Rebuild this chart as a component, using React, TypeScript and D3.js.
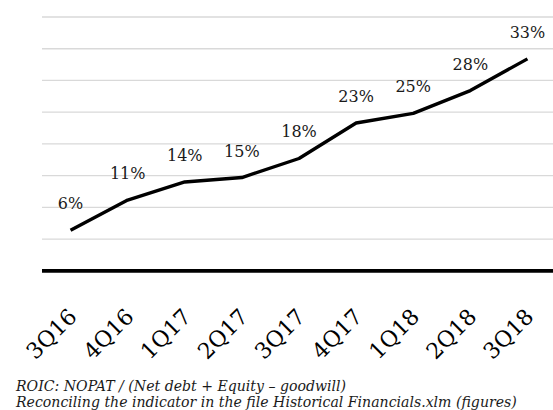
import React from "react";
import * as d3 from "d3";

const categories = ["3Q16", "4Q16", "1Q17", "2Q17", "3Q17", "4Q17", "1Q18", "2Q18", "3Q18"];
const roicValues = [0.064, 0.1115, 0.14, 0.147, 0.177, 0.233, 0.248, 0.284, 0.334];
const gridTicks = [0.05, 0.1, 0.15, 0.2, 0.25, 0.3, 0.35, 0.4];
const footnotes = [
  "ROIC: NOPAT / (Net debt + Equity \u2013 goodwill)",
  "Reconciling the indicator in the file Historical Financials.xlm (figures)",
];

const W = 553;
const H = 410;
const plot = { left: 42, right: 556, top: 17, bottom: 270.8 };
const serif = "Georgia, 'DejaVu Serif', serif";

export default function App() {
  const x = d3.scaleBand<string>().domain(categories).range([plot.left, plot.right]);
  const y = d3.scaleLinear().domain([0, 0.4]).range([plot.bottom, plot.top]);
  const cx = (c: string) => (x(c) ?? 0) + x.bandwidth() / 2;
  const line = d3
    .line<number>()
    .x((_, i) => cx(categories[i]))
    .y((d) => y(d));
  const fmt = d3.format(".0%");

  return (
    <svg
      width={W}
      height={H}
      style={{ position: "absolute", left: 0, top: 0, background: "#ffffff" }}
    >
      {gridTicks.map((t) => (
        <line
          key={t}
          x1={plot.left}
          x2={W}
          y1={y(t)}
          y2={y(t)}
          stroke="#d9d9d9"
          strokeWidth={1.3}
        />
      ))}
      <line x1={plot.left} x2={W} y1={y(0)} y2={y(0)} stroke="#000" strokeWidth={3.8} />
      <path
        d={line(roicValues) ?? ""}
        fill="none"
        stroke="#000"
        strokeWidth={3.4}
        strokeLinejoin="round"
      />
      {roicValues.map((v, i) => (
        <text
          key={categories[i]}
          x={cx(categories[i])}
          y={y(v) - 21}
          textAnchor="middle"
          fontFamily={serif}
          fontSize={16}
          fill="#1a1a1a"
        >
          {fmt(v)}
        </text>
      ))}
      {categories.map((c) => (
        <text
          key={c}
          transform={`translate(${cx(c) + 7.5},${318}) rotate(-45)`}
          textAnchor="end"
          fontFamily={serif}
          fontSize={22}
          fill="#000"
        >
          {c}
        </text>
      ))}
      {footnotes.map((f, i) => (
        <text
          key={i}
          x={16}
          y={391 + i * 16}
          fontFamily={serif}
          fontStyle="italic"
          fontSize={14.1}
          fill="#1a1a1a"
        >
          {f}
        </text>
      ))}
    </svg>
  );
}
